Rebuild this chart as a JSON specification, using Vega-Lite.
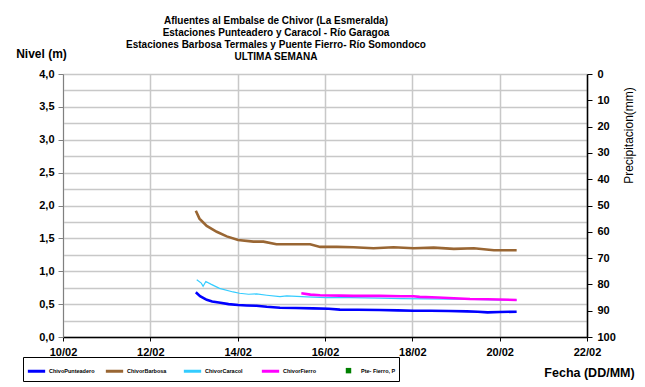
{
  "$schema": "https://vega.github.io/schema/vega-lite/v6.json",
  "width": 524,
  "height": 263,
  "autosize": "none",
  "padding": {"left": 63, "top": 74, "right": 58, "bottom": 50},
  "background": "white",
  "config": {
    "view": {"stroke": null},
    "font": "Liberation Sans",
    "axis": {"labelFont": "Liberation Sans", "titleFont": "Liberation Sans", "labelColor": "black", "titleColor": "black"}
  },
  "title": {
    "text": ["Afluentes al Embalse de Chivor (La Esmeralda)", "Estaciones Punteadero y Caracol - Río Garagoa", "Estaciones Barbosa Termales y Puente Fierro- Río Somondoco", "ULTIMA SEMANA"],
    "anchor": "middle",
    "dx": -49,
    "offset": -15,
    "fontSize": 10,
    "lineHeight": 12,
    "font": "Liberation Sans",
    "fontWeight": "bold",
    "color": "black"
  },
  "data": {
    "values": [
      {"series": "ChivoPunteadero", "fecha": "2021-02-13T01:00", "nivel": 0.68},
      {"series": "ChivoPunteadero", "fecha": "2021-02-13T03:20", "nivel": 0.62},
      {"series": "ChivoPunteadero", "fecha": "2021-02-13T07:00", "nivel": 0.565},
      {"series": "ChivoPunteadero", "fecha": "2021-02-13T10:00", "nivel": 0.54},
      {"series": "ChivoPunteadero", "fecha": "2021-02-13T14:30", "nivel": 0.52},
      {"series": "ChivoPunteadero", "fecha": "2021-02-13T19:00", "nivel": 0.5},
      {"series": "ChivoPunteadero", "fecha": "2021-02-14T00:15", "nivel": 0.487},
      {"series": "ChivoPunteadero", "fecha": "2021-02-14T05:00", "nivel": 0.48},
      {"series": "ChivoPunteadero", "fecha": "2021-02-14T10:20", "nivel": 0.475},
      {"series": "ChivoPunteadero", "fecha": "2021-02-14T16:00", "nivel": 0.46},
      {"series": "ChivoPunteadero", "fecha": "2021-02-14T23:15", "nivel": 0.446},
      {"series": "ChivoPunteadero", "fecha": "2021-02-15T08:00", "nivel": 0.44},
      {"series": "ChivoPunteadero", "fecha": "2021-02-15T17:30", "nivel": 0.436},
      {"series": "ChivoPunteadero", "fecha": "2021-02-16T02:00", "nivel": 0.43},
      {"series": "ChivoPunteadero", "fecha": "2021-02-16T08:10", "nivel": 0.416},
      {"series": "ChivoPunteadero", "fecha": "2021-02-16T18:00", "nivel": 0.415},
      {"series": "ChivoPunteadero", "fecha": "2021-02-17T06:00", "nivel": 0.41},
      {"series": "ChivoPunteadero", "fecha": "2021-02-17T16:00", "nivel": 0.405},
      {"series": "ChivoPunteadero", "fecha": "2021-02-18T00:40", "nivel": 0.4},
      {"series": "ChivoPunteadero", "fecha": "2021-02-18T10:00", "nivel": 0.4},
      {"series": "ChivoPunteadero", "fecha": "2021-02-18T20:00", "nivel": 0.395},
      {"series": "ChivoPunteadero", "fecha": "2021-02-19T06:00", "nivel": 0.39},
      {"series": "ChivoPunteadero", "fecha": "2021-02-19T12:00", "nivel": 0.385},
      {"series": "ChivoPunteadero", "fecha": "2021-02-19T17:20", "nivel": 0.375},
      {"series": "ChivoPunteadero", "fecha": "2021-02-20T00:00", "nivel": 0.38},
      {"series": "ChivoPunteadero", "fecha": "2021-02-20T09:20", "nivel": 0.385},

      {"series": "ChivorBarbosa", "fecha": "2021-02-13T01:00", "nivel": 1.92},
      {"series": "ChivorBarbosa", "fecha": "2021-02-13T03:00", "nivel": 1.8},
      {"series": "ChivorBarbosa", "fecha": "2021-02-13T07:00", "nivel": 1.69},
      {"series": "ChivorBarbosa", "fecha": "2021-02-13T12:30", "nivel": 1.6},
      {"series": "ChivorBarbosa", "fecha": "2021-02-13T18:00", "nivel": 1.53},
      {"series": "ChivorBarbosa", "fecha": "2021-02-14T00:15", "nivel": 1.475},
      {"series": "ChivorBarbosa", "fecha": "2021-02-14T08:40", "nivel": 1.45},
      {"series": "ChivorBarbosa", "fecha": "2021-02-14T14:10", "nivel": 1.45},
      {"series": "ChivorBarbosa", "fecha": "2021-02-14T21:20", "nivel": 1.41},
      {"series": "ChivorBarbosa", "fecha": "2021-02-15T10:20", "nivel": 1.41},
      {"series": "ChivorBarbosa", "fecha": "2021-02-15T15:50", "nivel": 1.41},
      {"series": "ChivorBarbosa", "fecha": "2021-02-15T21:20", "nivel": 1.37},
      {"series": "ChivorBarbosa", "fecha": "2021-02-16T06:30", "nivel": 1.37},
      {"series": "ChivorBarbosa", "fecha": "2021-02-16T15:40", "nivel": 1.365},
      {"series": "ChivorBarbosa", "fecha": "2021-02-17T02:40", "nivel": 1.35},
      {"series": "ChivorBarbosa", "fecha": "2021-02-17T13:40", "nivel": 1.365},
      {"series": "ChivorBarbosa", "fecha": "2021-02-18T00:40", "nivel": 1.35},
      {"series": "ChivorBarbosa", "fecha": "2021-02-18T11:45", "nivel": 1.36},
      {"series": "ChivorBarbosa", "fecha": "2021-02-18T22:50", "nivel": 1.34},
      {"series": "ChivorBarbosa", "fecha": "2021-02-19T09:50", "nivel": 1.35},
      {"series": "ChivorBarbosa", "fecha": "2021-02-19T20:50", "nivel": 1.32},
      {"series": "ChivorBarbosa", "fecha": "2021-02-20T09:20", "nivel": 1.32},

      {"series": "ChivorCaracol", "fecha": "2021-02-13T01:30", "nivel": 0.87},
      {"series": "ChivorCaracol", "fecha": "2021-02-13T04:00", "nivel": 0.82},
      {"series": "ChivorCaracol", "fecha": "2021-02-13T05:00", "nivel": 0.77},
      {"series": "ChivorCaracol", "fecha": "2021-02-13T06:30", "nivel": 0.845},
      {"series": "ChivorCaracol", "fecha": "2021-02-13T09:30", "nivel": 0.8},
      {"series": "ChivorCaracol", "fecha": "2021-02-13T14:00", "nivel": 0.74},
      {"series": "ChivorCaracol", "fecha": "2021-02-13T21:30", "nivel": 0.685},
      {"series": "ChivorCaracol", "fecha": "2021-02-14T01:00", "nivel": 0.665},
      {"series": "ChivorCaracol", "fecha": "2021-02-14T06:00", "nivel": 0.65},
      {"series": "ChivorCaracol", "fecha": "2021-02-14T10:20", "nivel": 0.655},
      {"series": "ChivorCaracol", "fecha": "2021-02-14T16:00", "nivel": 0.635},
      {"series": "ChivorCaracol", "fecha": "2021-02-14T23:15", "nivel": 0.613},
      {"series": "ChivorCaracol", "fecha": "2021-02-15T03:00", "nivel": 0.625},
      {"series": "ChivorCaracol", "fecha": "2021-02-15T14:00", "nivel": 0.61},
      {"series": "ChivorCaracol", "fecha": "2021-02-16T01:00", "nivel": 0.6},
      {"series": "ChivorCaracol", "fecha": "2021-02-16T14:00", "nivel": 0.598},
      {"series": "ChivorCaracol", "fecha": "2021-02-17T06:00", "nivel": 0.59},
      {"series": "ChivorCaracol", "fecha": "2021-02-17T18:00", "nivel": 0.585},
      {"series": "ChivorCaracol", "fecha": "2021-02-18T08:00", "nivel": 0.58},
      {"series": "ChivorCaracol", "fecha": "2021-02-18T20:00", "nivel": 0.575},
      {"series": "ChivorCaracol", "fecha": "2021-02-19T10:00", "nivel": 0.57},
      {"series": "ChivorCaracol", "fecha": "2021-02-19T22:00", "nivel": 0.565},
      {"series": "ChivorCaracol", "fecha": "2021-02-20T09:20", "nivel": 0.56},

      {"series": "ChivorFierro", "fecha": "2021-02-15T11:00", "nivel": 0.665},
      {"series": "ChivorFierro", "fecha": "2021-02-15T16:00", "nivel": 0.645},
      {"series": "ChivorFierro", "fecha": "2021-02-15T21:20", "nivel": 0.635},
      {"series": "ChivorFierro", "fecha": "2021-02-16T08:10", "nivel": 0.63},
      {"series": "ChivorFierro", "fecha": "2021-02-16T15:40", "nivel": 0.625},
      {"series": "ChivorFierro", "fecha": "2021-02-17T06:00", "nivel": 0.625},
      {"series": "ChivorFierro", "fecha": "2021-02-17T18:00", "nivel": 0.62},
      {"series": "ChivorFierro", "fecha": "2021-02-18T00:40", "nivel": 0.62},
      {"series": "ChivorFierro", "fecha": "2021-02-18T04:00", "nivel": 0.61},
      {"series": "ChivorFierro", "fecha": "2021-02-18T14:00", "nivel": 0.6},
      {"series": "ChivorFierro", "fecha": "2021-02-18T22:50", "nivel": 0.59},
      {"series": "ChivorFierro", "fecha": "2021-02-19T07:40", "nivel": 0.578},
      {"series": "ChivorFierro", "fecha": "2021-02-19T17:20", "nivel": 0.575},
      {"series": "ChivorFierro", "fecha": "2021-02-20T09:20", "nivel": 0.563}
    ]
  },
  "encoding": {
    "x": {
      "field": "fecha",
      "type": "temporal",
      "scale": {"domain": [{"year": 2021, "month": 2, "date": 10}, {"year": 2021, "month": 2, "date": 22}]},
      "axis": {
        "values": [
          {"year": 2021, "month": 2, "date": 10}, {"year": 2021, "month": 2, "date": 12},
          {"year": 2021, "month": 2, "date": 14}, {"year": 2021, "month": 2, "date": 16},
          {"year": 2021, "month": 2, "date": 18}, {"year": 2021, "month": 2, "date": 20},
          {"year": 2021, "month": 2, "date": 22}
        ],
        "format": "%d/%m",
        "labelFontSize": 11,
        "labelFontWeight": "bold",
        "labelPadding": 5,
        "labelAngle": 0,
        "labelFlush": false,
        "tickSize": 4,
        "tickColor": "black",
        "domainColor": "black",
        "domainWidth": 1.5,
        "grid": true,
        "gridColor": "#c8c8c8",
        "gridWidth": 1.5,
        "title": "Fecha (DD/MM)",
        "titleFontSize": 12.5,
        "titleFontWeight": "bold",
        "titleX": 526,
        "titleY": 35,
        "titleAlign": "center",
        "titleBaseline": "middle"
      }
    }
  },
  "layer": [
    {
      "mark": {"type": "line", "interpolate": "linear"},
      "encoding": {
        "y": {
          "field": "nivel",
          "type": "quantitative",
          "scale": {"domain": [0, 4], "nice": false},
          "axis": {
            "orient": "left",
            "values": [0, 0.25, 0.5, 0.75, 1, 1.25, 1.5, 1.75, 2, 2.25, 2.5, 2.75, 3, 3.25, 3.5, 3.75, 4],
            "labelExpr": "datum.value % 0.5 == 0 ? replace(format(datum.value, '.1f'), '.', ',') : ''",
            "labelFontSize": 11,
            "labelFontWeight": "bold",
            "labelPadding": 4,
            "tickSize": 5,
            "tickColor": "#808080",
            "tickOpacity": {"condition": {"test": "datum.value % 0.5 == 0", "value": 1}, "value": 0},
            "domainColor": "#808080",
            "grid": true,
            "gridColor": "#c8c8c8",
            "gridWidth": 1.5,
            "title": "Nivel (m)",
            "titleFontSize": 12,
            "titleFontWeight": "bold",
            "titleAngle": 0,
            "titleX": -22,
            "titleY": -21,
            "titleAlign": "center",
            "titleBaseline": "middle"
          }
        },
        "color": {
          "field": "series",
          "type": "nominal",
          "sort": null,
          "scale": {
            "domain": ["ChivoPunteadero", "ChivorBarbosa", "ChivorCaracol", "ChivorFierro", "Pte- Fierro, P"],
            "range": ["#0000FF", "#996633", "#33CCFF", "#FF00FF", "#008000"]
          },
          "legend": {
            "title": null,
            "orient": "none",
            "legendX": -40,
            "legendY": 283,
            "direction": "horizontal",
            "columns": 5,
            "gridAlign": "all",
            "strokeColor": "black",
            "padding": 3,
            "columnPadding": 4,
            "labelFont": "Liberation Sans",
            "labelFontSize": 5.5,
            "labelFontWeight": "bold",
            "labelColor": "black",
            "labelOffset": 2,
            "symbolType": "stroke",
            "symbolSize": 300,
            "symbolStrokeWidth": 3,
            "encode": {
              "symbols": {
                "update": {
                  "shape": {"signal": "datum.value === 'Pte- Fierro, P' ? 'square' : 'stroke'"},
                  "size": {"signal": "datum.value === 'Pte- Fierro, P' ? 6 : 300"},
                  "fill": {"signal": "datum.value === 'Pte- Fierro, P' ? '#008000' : 'transparent'"}
                }
              }
            }
          }
        },
        "strokeWidth": {"condition": {"test": "datum.series === 'ChivorCaracol'", "value": 1.2}, "value": 2.6}
      }
    },
    {
      "transform": [{"filter": "datum.series === 'Pte- Fierro, P'"}],
      "mark": {"type": "point", "filled": true, "shape": "square", "size": 6},
      "encoding": {
        "y": {
          "field": "precip",
          "type": "quantitative",
          "scale": {"domain": [0, 100], "reverse": true, "nice": false},
          "axis": {
            "orient": "right",
            "values": [0, 10, 20, 30, 40, 50, 60, 70, 80, 90, 100],
            "labelFontSize": 11,
            "labelFontWeight": "bold",
            "labelPadding": 5,
            "tickSize": 5,
            "tickColor": "black",
            "domainColor": "black",
            "domainWidth": 1.5,
            "grid": false,
            "title": "Precipitacion(mm)",
            "titleFontSize": 12,
            "titleFontWeight": "normal",
            "titleAngle": 270,
            "titleX": 41,
            "titleY": 61,
            "titleAlign": "center",
            "titleBaseline": "middle"
          }
        },
        "color": {"field": "series", "type": "nominal"}
      }
    }
  ],
  "resolve": {"scale": {"y": "independent"}, "axis": {"y": "independent"}}
}
